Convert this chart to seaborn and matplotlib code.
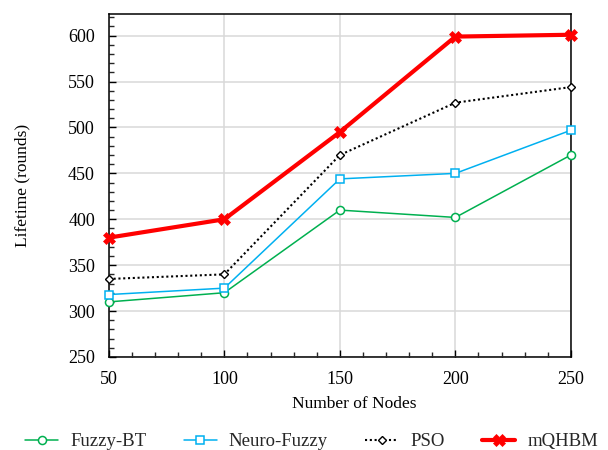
import matplotlib
matplotlib.use("Agg")
import matplotlib.pyplot as plt
import seaborn as sns
import pandas as pd
from matplotlib.ticker import MultipleLocator

nodes = [50, 100, 150, 200, 250]
fuzzy_bt = [310, 320, 410, 402, 470]
neuro_fuzzy = [318, 325, 444, 450, 497]
pso = [335, 340, 470, 527, 544]
mqhbm = [380, 400, 495, 599, 601]

sns.set_theme(style="white")
plt.rcParams['font.family'] = ['Liberation Serif', 'DejaVu Serif']

fig = plt.figure(figsize=(6.08, 4.5), dpi=100)
ax = fig.add_axes([0.179, 0.2067, 0.760, 0.763])

series = [
    ("Fuzzy-BT", fuzzy_bt, dict(color="#00B050", lw=1.1, ls="-", marker="o", ms=5.8, mfc="white", mew=1.1)),
    ("Neuro-Fuzzy", neuro_fuzzy, dict(color="#00B0F0", lw=1.1, ls="-", marker="s", ms=6.3, mfc="white", mew=1.1)),
    ("PSO", pso, dict(color="black", lw=1.5, ls=(0, (1, 1.3)), marker="D", ms=4.5, mfc="white", mew=1.0)),
    ("mQHBM", mqhbm, dict(color="#FF0000", lw=3.0, ls="-", marker="X", ms=8.5, mfc="#FF0000", mew=0.5)),
]

for name, vals, kw in series:
    df = pd.DataFrame({"x": nodes, "y": vals})
    sns.lineplot(data=df, x="x", y="y", ax=ax, label=name,
                 color=kw["color"], linewidth=kw["lw"], linestyle=kw["ls"],
                 marker=kw["marker"], markersize=kw["ms"],
                 markerfacecolor=kw["mfc"], markeredgecolor=kw["color"],
                 markeredgewidth=kw["mew"], zorder=3, clip_on=False)

ax.set_xlim(50, 250)
ax.set_ylim(250, 624)
ax.xaxis.set_major_locator(MultipleLocator(50))
ax.xaxis.set_minor_locator(MultipleLocator(10))
ax.yaxis.set_major_locator(MultipleLocator(50))
ax.yaxis.set_minor_locator(MultipleLocator(10))
ax.grid(True, which="major", color="#d9d9d9", lw=1.1)
ax.set_axisbelow(True)
for s in ax.spines.values():
    s.set_color("black")
    s.set_linewidth(1.1)
ax.tick_params(axis="both", which="major", direction="in", length=5, width=1,
               labelsize=13, colors="black", pad=10, top=False, right=False,
               bottom=True, left=True)
ax.tick_params(axis="both", which="minor", direction="in", length=3.5, width=1,
               top=False, right=False, bottom=True, left=True)
ax.set_xlabel("Number of Nodes", fontsize=12.5, color="black")
ax.xaxis.set_label_coords(0.532, -0.115)
ax.set_ylabel("Lifetime (rounds)", fontsize=12.5, color="black")
ax.yaxis.set_label_coords(-0.169, 0.5)

ax.legend(loc="center", bbox_to_anchor=(0.439, -0.247), ncol=4, frameon=False,
          fontsize=13.5, handlelength=1.75, columnspacing=2.0, handletextpad=0.65,
          borderaxespad=0)

fig.savefig("out.png", dpi=100)
